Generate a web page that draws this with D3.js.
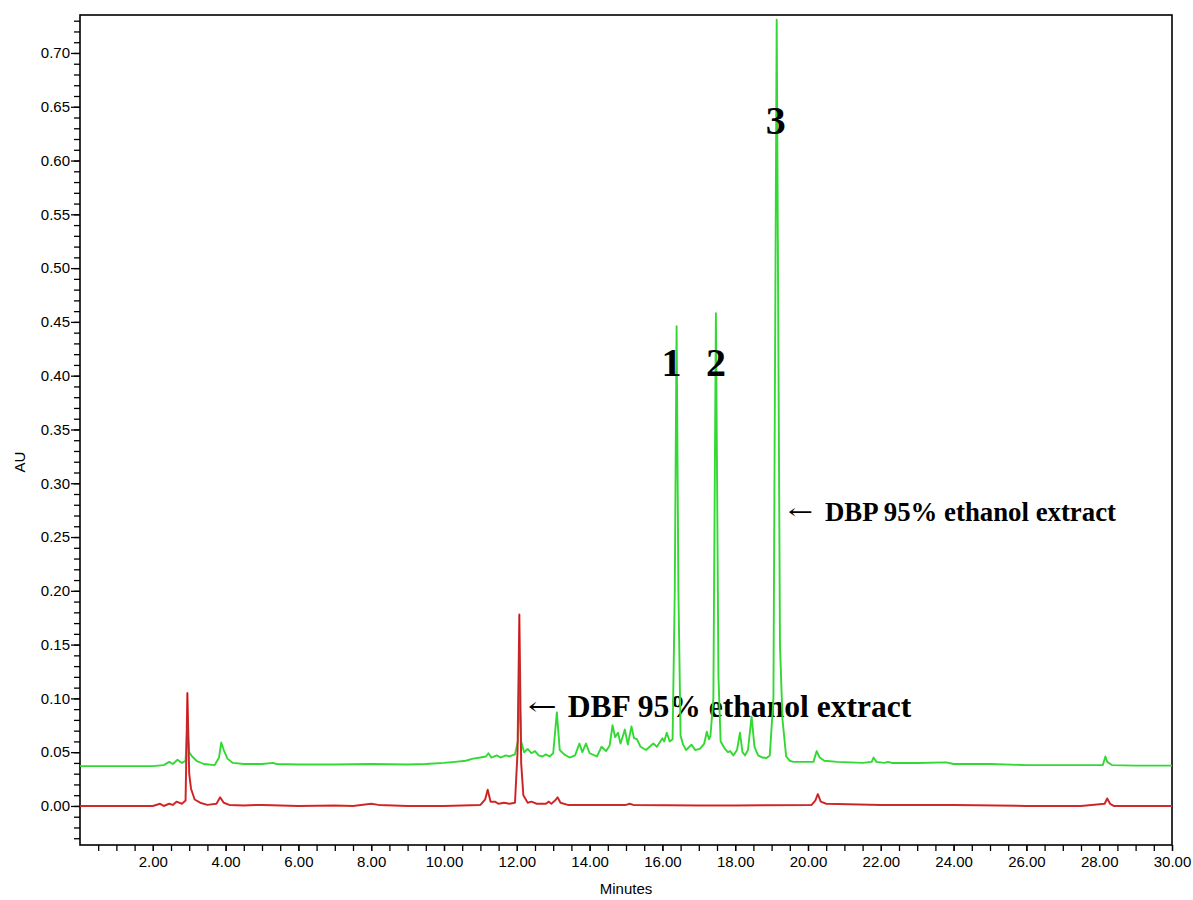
<!DOCTYPE html>
<html>
<head>
<meta charset="utf-8">
<script src="https://cdn.jsdelivr.net/npm/d3@7"></script>
<style>
  html, body { margin: 0; padding: 0; background: #fff; }
  svg { display: block; }
</style>
</head>
<body>
<svg id="chart" width="1193" height="900"></svg>
<script>
// ---------------- DATA ----------------
// DBP 95% ethanol extract (green trace): retention time (min), absorbance (AU)
const dbpTimes = [0.0,1.0,2.0,2.3,2.45,2.55,2.68,2.8,2.9,2.95,3.0,3.08,3.2,3.4,3.7,3.82,3.88,3.95,4.05,4.2,4.5,5.0,5.3,5.4,6.0,7.0,8.0,9.0,9.5,10.0,10.3,10.6,10.8,11.0,11.15,11.22,11.3,11.45,11.55,11.7,11.8,11.95,12.03,12.07,12.12,12.2,12.3,12.4,12.5,12.6,12.7,12.8,12.9,13.0,13.1,13.18,13.3,13.45,13.6,13.72,13.8,13.9,14.0,14.2,14.33,14.45,14.55,14.63,14.7,14.78,14.85,14.97,15.05,15.15,15.22,15.3,15.4,15.55,15.75,15.85,16.0,16.05,16.12,16.2,16.28,16.34,16.39,16.44,16.5,16.57,16.65,16.8,16.9,17.03,17.15,17.22,17.28,17.32,17.4,17.47,17.54,17.6,17.72,17.8,17.86,17.95,18.05,18.13,18.2,18.27,18.35,18.45,18.53,18.63,18.75,18.86,18.95,19.05,19.14,19.23,19.3,19.4,19.5,19.6,20.0,20.15,20.24,20.32,20.45,20.8,21.5,21.75,21.8,21.88,22.1,22.2,22.3,23.0,23.8,24.0,25.0,26.0,27.5,28.1,28.17,28.22,28.35,29.0,30.0];
const dbpValues = [0.037,0.037,0.037,0.038,0.041,0.039,0.043,0.040,0.042,0.075,0.050,0.046,0.042,0.039,0.038,0.045,0.059,0.052,0.044,0.040,0.039,0.039,0.040,0.039,0.0385,0.0385,0.039,0.0385,0.039,0.040,0.041,0.042,0.044,0.045,0.046,0.049,0.045,0.047,0.045,0.047,0.046,0.048,0.060,0.110,0.060,0.050,0.053,0.049,0.051,0.047,0.046,0.048,0.046,0.049,0.087,0.052,0.048,0.045,0.047,0.058,0.050,0.058,0.049,0.046,0.055,0.051,0.056,0.075,0.064,0.068,0.058,0.071,0.057,0.074,0.063,0.062,0.055,0.052,0.058,0.055,0.063,0.060,0.068,0.060,0.062,0.200,0.446,0.200,0.065,0.057,0.052,0.057,0.052,0.053,0.058,0.069,0.062,0.065,0.100,0.458,0.120,0.060,0.053,0.050,0.051,0.047,0.052,0.068,0.050,0.047,0.052,0.083,0.055,0.047,0.045,0.0446,0.047,0.100,0.731,0.150,0.080,0.046,0.042,0.041,0.041,0.041,0.051,0.045,0.042,0.041,0.040,0.041,0.045,0.041,0.040,0.041,0.040,0.040,0.0405,0.039,0.039,0.038,0.038,0.038,0.046,0.041,0.038,0.0375,0.0375];

// DBF 95% ethanol extract (red trace)
const dbfTimes = [0.0,2.0,2.2,2.3,2.45,2.55,2.65,2.8,2.9,2.95,3.0,3.05,3.15,3.3,3.5,3.75,3.85,3.95,4.1,4.5,5.0,6.0,7.0,7.5,8.0,8.2,9.0,10.0,11.0,11.13,11.2,11.28,11.4,11.5,11.65,11.8,11.95,12.02,12.07,12.12,12.18,12.3,12.4,12.55,12.8,12.88,12.95,13.05,13.12,13.2,13.4,14.0,15.0,15.1,15.2,17.0,18.0,20.1,20.2,20.27,20.35,20.5,22.0,24.0,26.0,27.5,28.15,28.22,28.3,28.4,30.0];
const dbfValues = [0.0,0.0,0.002,0.0,0.002,0.001,0.004,0.002,0.005,0.105,0.030,0.016,0.006,0.003,0.001,0.002,0.008,0.003,0.001,0.0005,0.001,0.0,0.0005,0.0,0.002,0.001,0.0,0.0,0.001,0.006,0.015,0.004,0.004,0.002,0.003,0.002,0.003,0.050,0.178,0.040,0.010,0.003,0.004,0.002,0.002,0.004,0.002,0.005,0.008,0.003,0.001,0.001,0.001,0.002,0.001,0.0005,0.0005,0.001,0.005,0.011,0.004,0.002,0.001,0.001,0.0,0.0,0.002,0.007,0.002,0.0,0.0];

// Axis ticks
const xMajorTicks = [2,4,6,8,10,12,14,16,18,20,22,24,26,28,30];
const yMajorTicks = [0.00,0.05,0.10,0.15,0.20,0.25,0.30,0.35,0.40,0.45,0.50,0.55,0.60,0.65,0.70];

// Peak labels
const peakNames = ["1","2","3"];
const peakTimes = [16.39,17.47,19.14];
const peakLabelValues = [0.40,0.40,0.625];

// Trace annotations
const annoTexts = ["DBF 95% ethanol extract","DBP 95% ethanol extract"];
const annoTimes = [12.3,19.45];
const annoValues = [0.083,0.265];

// ---------------- DRAW ----------------
const svg = d3.select("#chart");
const mLeft = 80, mRight = 1172, mTop = 15, mBottom = 845;
const x = d3.scaleLinear().domain([0,30]).range([mLeft,mRight]);
const y = d3.scaleLinear().domain([-0.0363,0.7353]).range([mBottom,mTop]);

const axisFont = "'Liberation Sans', Arial, sans-serif";
const serif = "'Liberation Serif', 'Times New Roman', serif";

// minor ticks
const xMinor = d3.range(1, 61, 1).map(d => d/2);
const yMinor = d3.range(-3, 74, 1).map(d => d/100);

const gx = svg.append("g").attr("transform", `translate(0,${mBottom})`);
gx.call(d3.axisBottom(x).tickValues(xMinor).tickSize(6).tickFormat(""));
gx.append("g").call(d3.axisBottom(x).tickValues(xMajorTicks).tickSize(6).tickPadding(5).tickFormat(d3.format(".2f")));
gx.selectAll(".domain").remove();
gx.selectAll("text").attr("font-family", axisFont).attr("font-size", 15).attr("fill", "#000");
gx.selectAll("line").attr("stroke", "#000").attr("stroke-width", 1.3);

const gy = svg.append("g").attr("transform", `translate(${mLeft},0)`);
gy.call(d3.axisLeft(y).tickValues(yMinor).tickSize(6).tickFormat(""));
gy.append("g").call(d3.axisLeft(y).tickValues(yMajorTicks).tickSize(9).tickPadding(1).tickFormat(d3.format(".2f")));
gy.selectAll(".domain").remove();
gy.selectAll("text").attr("font-family", axisFont).attr("font-size", 15).attr("fill", "#000");
gy.selectAll("line").attr("stroke", "#000").attr("stroke-width", 1.3);

// frame
svg.append("rect").attr("x", mLeft).attr("y", mTop).attr("width", mRight-mLeft).attr("height", mBottom-mTop)
  .attr("fill", "none").attr("stroke", "#000").attr("stroke-width", 1.6);

// axis titles
svg.append("text").attr("x", (mLeft+mRight)/2).attr("y", 894).attr("text-anchor", "middle")
  .attr("font-family", axisFont).attr("font-size", 15).attr("fill", "#000").text("Minutes");
svg.append("text").attr("transform", `translate(25,462) rotate(-90)`).attr("text-anchor", "middle")
  .attr("font-family", axisFont).attr("font-size", 15).attr("fill", "#000").text("AU");

// annotations (drawn below traces)
const annoSizes = [31.6, 26.8];
const arrowLens = [29, 25];
const textOffsets = [40, 37];
annoTexts.forEach((t, i) => {
  const g = svg.append("g");
  const ax = x(annoTimes[i]), ay = y(annoValues[i]);
  const ag = g.append("g");
  const arrow = ag.append("text").attr("x", 0).attr("y", 0).attr("font-family", "'DejaVu Serif', serif")
    .attr("font-size", annoSizes[i] * 0.8).attr("fill", "#000").text("\u2190");
  const bb = arrow.node().getBBox();
  const sx = bb.width > 0 ? arrowLens[i] / bb.width : 1;
  ag.attr("transform", `translate(${ax - bb.x * sx},${ay - annoSizes[i]*0.06}) scale(${sx},1)`);
  g.append("text").attr("x", ax + textOffsets[i]).attr("y", ay).attr("font-family", serif)
    .attr("font-weight", "bold").attr("font-size", annoSizes[i]).attr("fill", "#000").text(t);
});

// traces
const line = d3.line().x(d => x(d[0])).y(d => y(d[1]));
const dbp = dbpTimes.map((t, i) => [t, dbpValues[i]]);
const dbf = dbfTimes.map((t, i) => [t, dbfValues[i]]);

svg.append("path").datum(dbp).attr("d", line).attr("fill", "none")
  .attr("stroke", "#33d933").attr("stroke-width", 1.9).attr("stroke-linejoin", "round");
svg.append("path").datum(dbf).attr("d", line).attr("fill", "none")
  .attr("stroke", "#e23030").attr("stroke-width", 2).attr("stroke-linejoin", "round");
svg.append("path").datum(dbf).attr("d", line).attr("fill", "none")
  .attr("stroke", "#6a0c0c").attr("stroke-width", 0.7).attr("stroke-opacity", 0.45);

// peak labels
const peakDx = [-5, 0, -1];
peakNames.forEach((n, i) => {
  svg.append("text").attr("x", x(peakTimes[i]) + peakDx[i]).attr("y", y(peakLabelValues[i]))
    .attr("text-anchor", "middle").attr("font-family", serif).attr("font-weight", "bold")
    .attr("font-size", 40).attr("fill", "#000").text(n);
});
</script>
</body>
</html>
